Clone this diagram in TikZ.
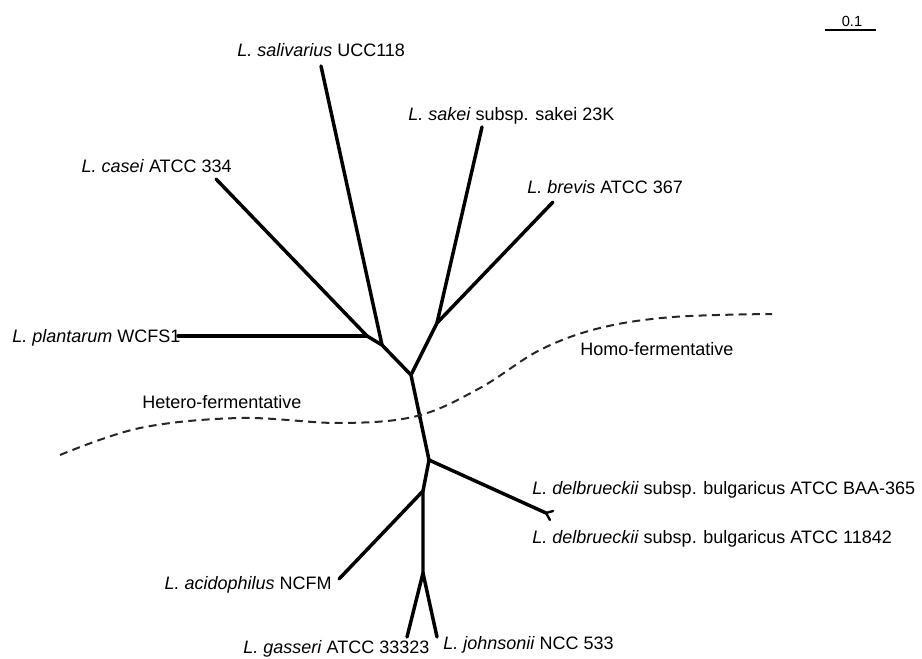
\documentclass[tikz,border=0pt]{standalone}
\usepackage{fontspec}
\setmainfont{Liberation Sans}
\begin{document}
\begin{tikzpicture}[x=0.75pt,y=-0.75pt,
  branch/.style={line width=2.6pt, line cap=round, line join=round},
  lbl/.style={inner sep=0pt, font=\fontsize{13.5}{16}\selectfont},
  sep/.style={line width=1.5pt, dash pattern=on 6pt off 4pt, black!85}]
\useasboundingbox (0,0) rectangle (922,659);
% tree coordinates
\coordinate (sal) at (321,66);
\coordinate (sak) at (482,127);
\coordinate (cas) at (216,179);
\coordinate (bre) at (553,202);
\coordinate (pla) at (178,336);
\coordinate (A) at (367,336);
\coordinate (B) at (382,345);
\coordinate (C) at (437,323);
\coordinate (D) at (411,375);
\coordinate (E) at (429,460);
\coordinate (F) at (423,491);
\coordinate (G) at (423,573);
\coordinate (dfork) at (546,513);
\coordinate (d1) at (553,511);
\coordinate (d2) at (550,520);
\coordinate (aci) at (339,579);
\coordinate (gas) at (407,637);
\coordinate (joh) at (437,637);
% branches
\draw[branch] (pla) -- (A);
\draw[branch] (cas) -- (A) -- (B) -- (D) -- (E) -- (F) -- (G) -- (gas);
\draw[branch] (sal) -- (B);
\draw[branch] (sak) -- (C);
\draw[branch] (bre) -- (C) -- (D);
\draw[branch] (E) -- (dfork);
\draw[branch, line width=1.8pt] (d1) -- (dfork) -- (d2);
\draw[branch] (F) -- (aci);
\draw[branch] (G) -- (joh);
% separation curve
\draw[sep] plot[smooth, tension=0.6] coordinates {(60,455) (140,428) (240,418) (340,423) (417,416) (480,388) (540,350) (600,328) (673,317) (772,314)};
% scale bar
\coordinate (s1) at (825,30);
\coordinate (s2) at (876,30);
\draw[line width=1.5pt] (s1) -- (s2);
\node[inner sep=0pt, font=\fontsize{11}{13}\selectfont, anchor=base] (sc) at (852,27) {0.1};
% labels
\node[lbl, anchor=base west] (lsal) at (237,57) {\textit{L. salivarius} UCC118};
\node[lbl, anchor=base west] (lsak) at (408,121) {\textit{L. sakei} subsp. sakei 23K};
\node[lbl, anchor=base east] (lcas) at (232,173) {\textit{L. casei} ATCC 334};
\node[lbl, anchor=base west] (lbre) at (527,194) {\textit{L. brevis} ATCC 367};
\node[lbl, anchor=base west] (lpla) at (12,343) {\textit{L. plantarum} WCFS1};
\node[lbl, anchor=base west] (lhomo) at (580,356) {Homo-fermentative};
\node[lbl, anchor=base west] (lhet) at (142,409) {Hetero-fermentative};
\node[lbl, anchor=base west] (ld1) at (532,494) {\textit{L. delbrueckii} subsp. bulgaricus ATCC BAA-365};
\node[lbl, anchor=base west] (ld2) at (532,543) {\textit{L. delbrueckii} subsp. bulgaricus ATCC 11842};
\node[lbl, anchor=base east] (laci) at (332,589) {\textit{L. acidophilus} NCFM};
\node[lbl, anchor=base west] (lgas) at (243,653) {\textit{L. gasseri} ATCC 33323};
\node[lbl, anchor=base west] (ljoh) at (443,649) {\textit{L. johnsonii} NCC 533};
\end{tikzpicture}
\end{document}
